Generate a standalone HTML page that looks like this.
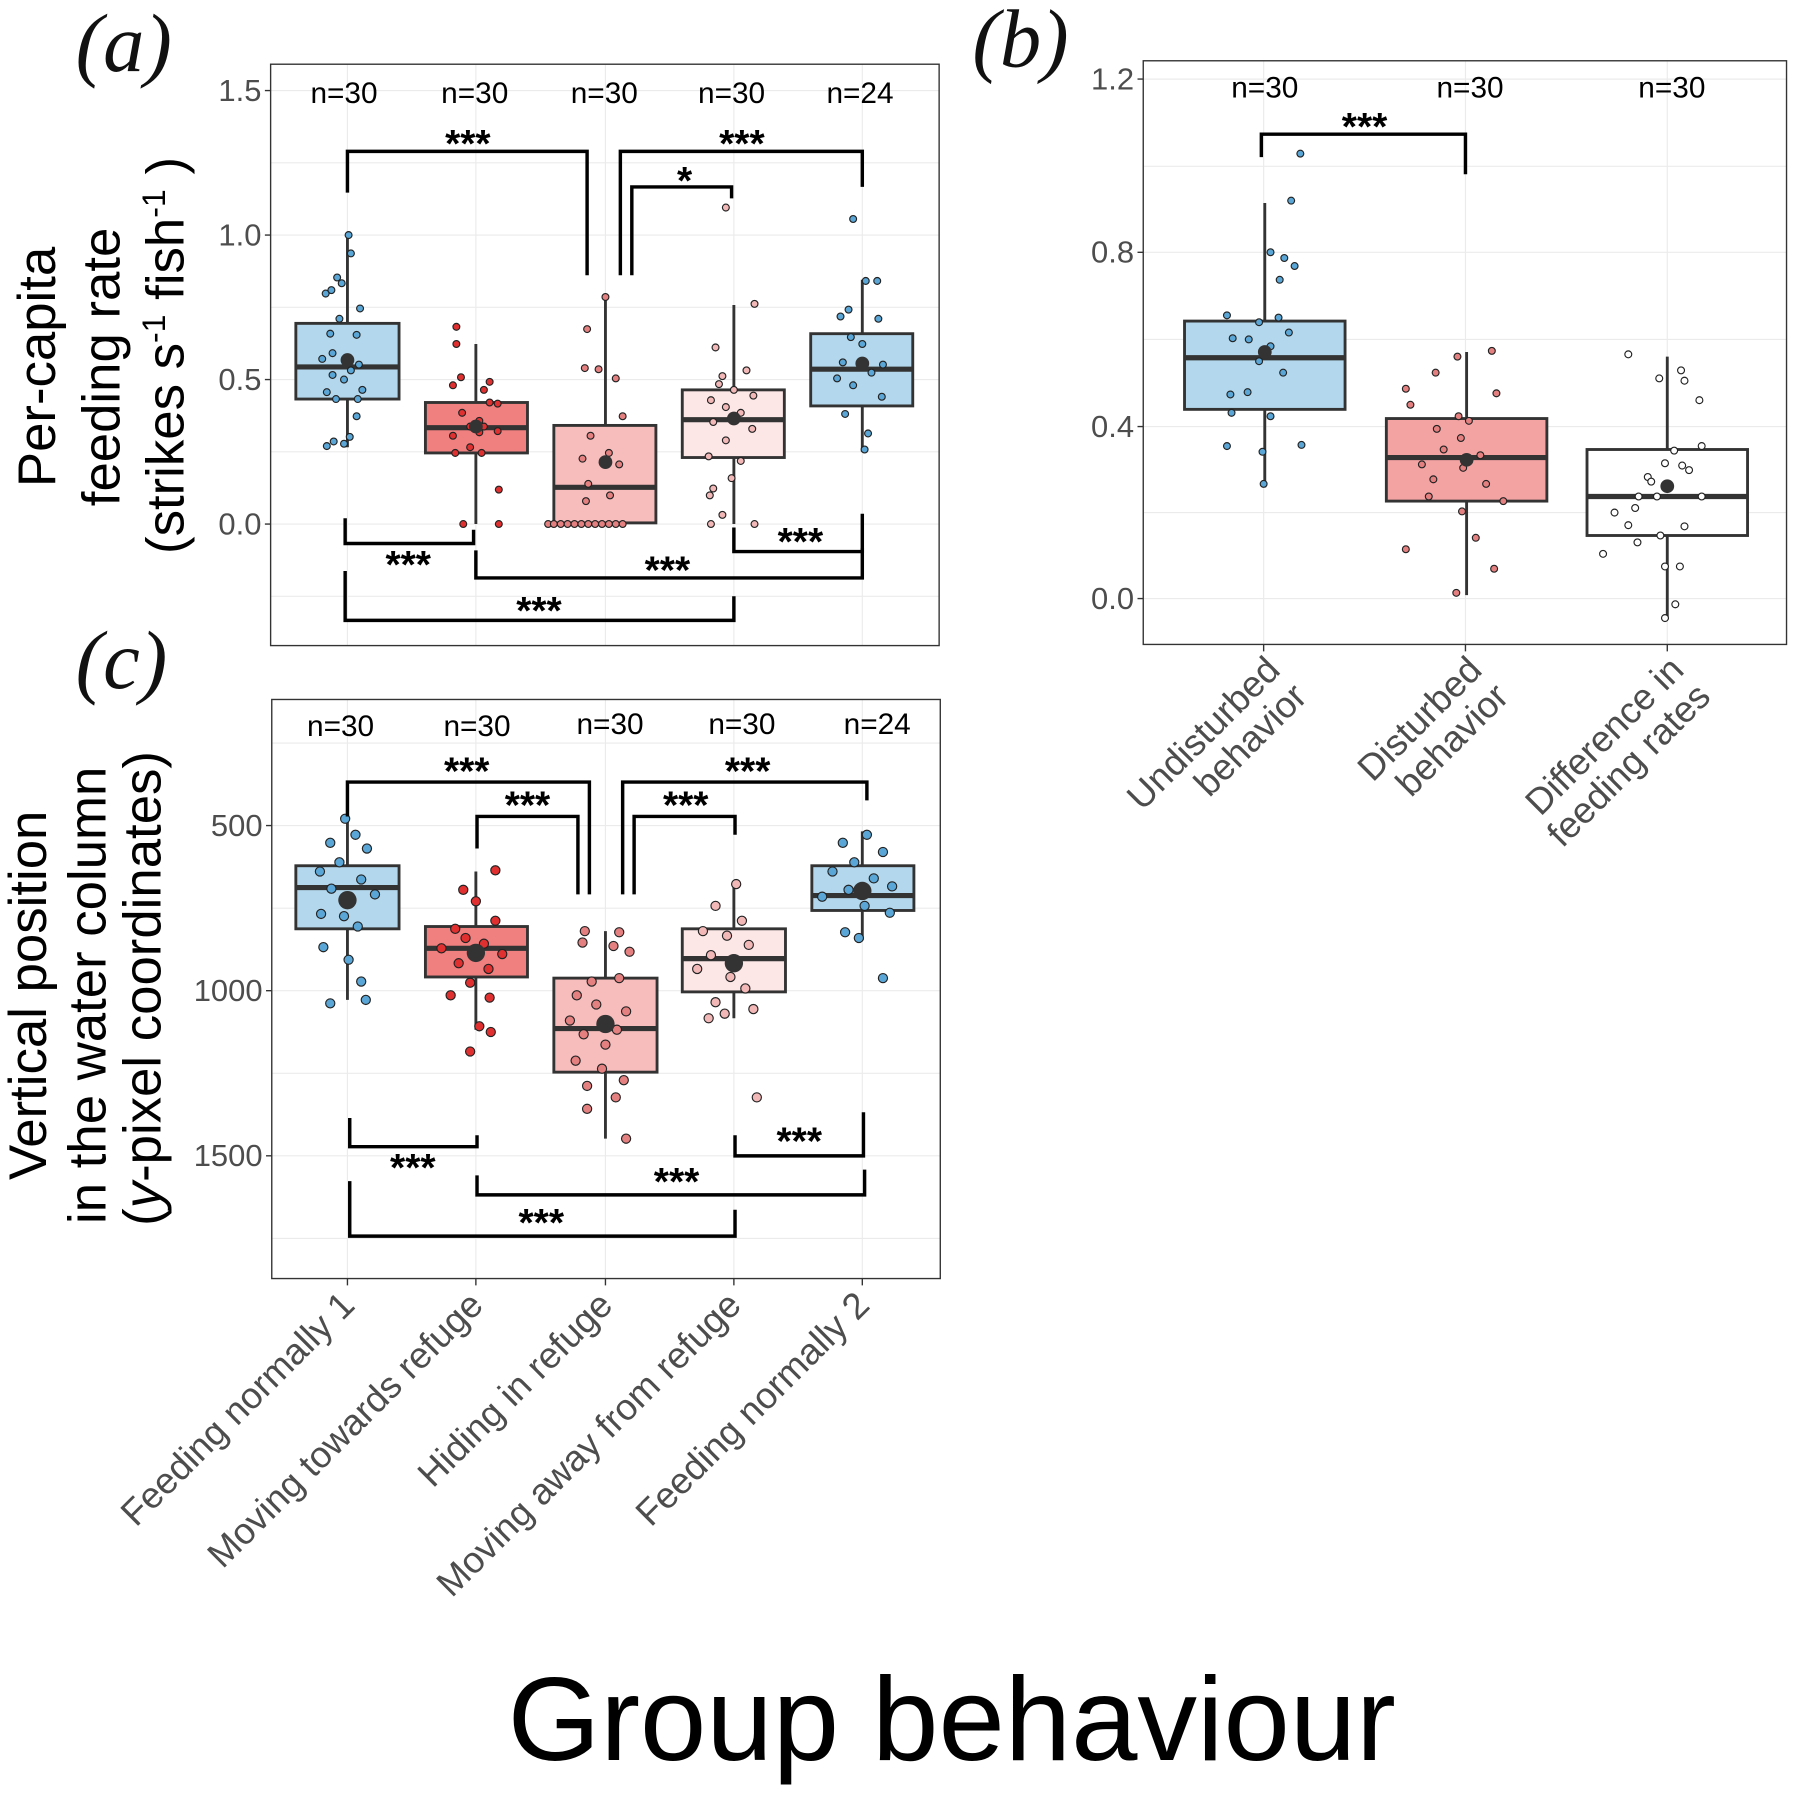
<!DOCTYPE html>
<html><head><meta charset="utf-8"><style>html,body{margin:0;padding:0;background:#fff}svg{display:block}</style></head>
<body>
<svg width="1798" height="1798" viewBox="0 0 1568 1568" xmlns="http://www.w3.org/2000/svg" font-family="Liberation Sans, sans-serif">
<rect width="1568" height="1568" fill="#fff"/>
<g stroke="#ebebeb" stroke-width="1">
<line x1="236" x2="819" y1="79" y2="79"/><line x1="236" x2="819" y1="142" y2="142"/><line x1="236" x2="819" y1="205" y2="205"/><line x1="236" x2="819" y1="268" y2="268"/><line x1="236" x2="819" y1="331" y2="331"/><line x1="236" x2="819" y1="394" y2="394"/><line x1="236" x2="819" y1="457" y2="457"/><line x1="236" x2="819" y1="520" y2="520"/>
<line x1="303" x2="303" y1="56" y2="563"/><line x1="415" x2="415" y1="56" y2="563"/><line x1="528" x2="528" y1="56" y2="563"/><line x1="640" x2="640" y1="56" y2="563"/><line x1="752" x2="752" y1="56" y2="563"/>
<line x1="997" x2="1558" y1="69" y2="69"/><line x1="997" x2="1558" y1="145" y2="145"/><line x1="997" x2="1558" y1="220" y2="220"/><line x1="997" x2="1558" y1="296" y2="296"/><line x1="997" x2="1558" y1="372" y2="372"/><line x1="997" x2="1558" y1="447" y2="447"/><line x1="997" x2="1558" y1="522" y2="522"/>
<line x1="1102" x2="1102" y1="53" y2="562"/><line x1="1278" x2="1278" y1="53" y2="562"/><line x1="1454" x2="1454" y1="53" y2="562"/>
<line x1="237" x2="820" y1="648" y2="648"/><line x1="237" x2="820" y1="720" y2="720"/><line x1="237" x2="820" y1="792" y2="792"/><line x1="237" x2="820" y1="864" y2="864"/><line x1="237" x2="820" y1="936" y2="936"/><line x1="237" x2="820" y1="1008" y2="1008"/><line x1="237" x2="820" y1="1080" y2="1080"/>
<line x1="303" x2="303" y1="610" y2="1115"/><line x1="415" x2="415" y1="610" y2="1115"/><line x1="528" x2="528" y1="610" y2="1115"/><line x1="640" x2="640" y1="610" y2="1115"/><line x1="752" x2="752" y1="610" y2="1115"/>
</g>
<g fill="none" stroke="#333" stroke-width="1.2">
<rect x="236" y="56" width="583" height="507"/>
<rect x="997" y="53" width="561" height="509"/>
<rect x="237" y="610" width="583" height="505"/>
<path d="M231 79h5M231 205h5M231 331h5M231 457h5M992 69h5M992 220h5M992 372h5M992 522h5M232 720h5M232 864h5M232 1008h5M303 1115v6M415 1115v6M528 1115v6M640 1115v6M752 1115v6M1102 562v6M1278 562v6M1454 562v6"/>
</g>
<g font-size="27" fill="#4d4d4d" text-anchor="end">
<text x="228" y="88">1.5</text><text x="228" y="214">1.0</text><text x="228" y="340">0.5</text><text x="228" y="466">0.0</text>
<text x="989" y="78">1.2</text><text x="989" y="229">0.8</text><text x="989" y="381">0.4</text><text x="989" y="531">0.0</text>
<text x="229" y="729">500</text><text x="229" y="873">1000</text><text x="229" y="1017">1500</text>
</g>
<g stroke="#333" stroke-width="2.5">
<path d="M303 205V390M415 300V457M528 258V457M640 266V457M752 244V394M1103 177V425M1279 307V519M1454 311V540M303 712V872M415 760V898M528 812V993M640 770V888M752 725V820"/>
<rect x="258" y="282" width="90" height="66" fill="#b3d7ec"/>
<rect x="371" y="351" width="89" height="44" fill="#f08080"/>
<rect x="483" y="371" width="89" height="85" fill="#f7bcbc"/>
<rect x="595" y="340" width="89" height="59" fill="#fde6e6"/>
<rect x="707" y="291" width="89" height="63" fill="#b3d7ec"/>
<rect x="1033" y="280" width="140" height="77" fill="#b3d7ec"/>
<rect x="1209" y="365" width="140" height="72" fill="#f4a3a3"/>
<rect x="1384" y="392" width="140" height="75" fill="#fff"/>
<rect x="258" y="755" width="90" height="55" fill="#b3d7ec"/>
<rect x="371" y="808" width="89" height="44" fill="#f08080"/>
<rect x="483" y="853" width="90" height="82" fill="#f7bcbc"/>
<rect x="595" y="810" width="90" height="55" fill="#fde6e6"/>
<rect x="708" y="755" width="89" height="39" fill="#b3d7ec"/>
</g>
<g stroke="#333" stroke-width="4.5">
<path d="M258 320H348M371 373H460M483 425H572M595 366H684M707 322H796M1033 312H1173M1209 399H1349M1384 433H1524M258 774H348M371 827H460M483 897H573M595 836H685M708 781H797"/>
</g>
<g stroke="#222" stroke-width="1">
<g fill="#5aa6d6">
<circle cx="304" cy="205" r="3"/><circle cx="306" cy="221" r="3"/><circle cx="294" cy="242" r="3"/><circle cx="298" cy="247" r="3"/><circle cx="284" cy="256" r="3"/><circle cx="289" cy="253" r="3"/><circle cx="314" cy="269" r="3"/><circle cx="296" cy="278" r="3"/><circle cx="288" cy="291" r="3"/><circle cx="311" cy="292" r="3"/><circle cx="290" cy="308" r="3"/><circle cx="281" cy="313" r="3"/><circle cx="313" cy="318" r="3"/><circle cx="306" cy="323" r="3"/><circle cx="290" cy="327" r="3"/><circle cx="300" cy="331" r="3"/><circle cx="285" cy="342" r="3"/><circle cx="293" cy="348" r="3"/><circle cx="312" cy="348" r="3"/><circle cx="316" cy="340" r="3"/><circle cx="311" cy="363" r="3"/><circle cx="305" cy="381" r="3"/><circle cx="291" cy="385" r="3"/><circle cx="285" cy="389" r="3"/><circle cx="300" cy="387" r="3"/>
<circle cx="744" cy="191" r="3"/><circle cx="755" cy="245" r="3"/><circle cx="765" cy="245" r="3"/><circle cx="740" cy="270" r="3"/><circle cx="733" cy="276" r="3"/><circle cx="766" cy="278" r="3"/><circle cx="742" cy="294" r="3"/><circle cx="752" cy="300" r="3"/><circle cx="735" cy="316" r="3"/><circle cx="770" cy="318" r="3"/><circle cx="760" cy="325" r="3"/><circle cx="730" cy="330" r="3"/><circle cx="744" cy="336" r="3"/><circle cx="769" cy="346" r="3"/><circle cx="737" cy="361" r="3"/><circle cx="757" cy="378" r="3"/><circle cx="754" cy="392" r="3"/>
<circle cx="1134" cy="134" r="3"/><circle cx="1126" cy="175" r="3"/><circle cx="1108" cy="220" r="3"/><circle cx="1120" cy="225" r="3"/><circle cx="1129" cy="232" r="3"/><circle cx="1116" cy="244" r="3"/><circle cx="1070" cy="275" r="3"/><circle cx="1098" cy="281" r="3"/><circle cx="1115" cy="277" r="3"/><circle cx="1075" cy="295" r="3"/><circle cx="1089" cy="296" r="3"/><circle cx="1124" cy="290" r="3"/><circle cx="1108" cy="302" r="3"/><circle cx="1098" cy="315" r="3"/><circle cx="1119" cy="325" r="3"/><circle cx="1073" cy="344" r="3"/><circle cx="1088" cy="342" r="3"/><circle cx="1108" cy="363" r="3"/><circle cx="1074" cy="360" r="3"/><circle cx="1070" cy="389" r="3"/><circle cx="1135" cy="388" r="3"/><circle cx="1101" cy="394" r="3"/><circle cx="1102" cy="422" r="3"/>
<circle cx="301" cy="714" r="4"/><circle cx="310" cy="728" r="4"/><circle cx="288" cy="735" r="4"/><circle cx="320" cy="740" r="4"/><circle cx="296" cy="752" r="4"/><circle cx="279" cy="760" r="4"/><circle cx="315" cy="767" r="4"/><circle cx="289" cy="775" r="4"/><circle cx="305" cy="782" r="4"/><circle cx="327" cy="780" r="4"/><circle cx="280" cy="797" r="4"/><circle cx="300" cy="799" r="4"/><circle cx="312" cy="808" r="4"/><circle cx="282" cy="826" r="4"/><circle cx="304" cy="837" r="4"/><circle cx="315" cy="856" r="4"/><circle cx="288" cy="875" r="4"/><circle cx="319" cy="872" r="4"/>
<circle cx="756" cy="728" r="4"/><circle cx="735" cy="735" r="4"/><circle cx="770" cy="743" r="4"/><circle cx="745" cy="752" r="4"/><circle cx="726" cy="760" r="4"/><circle cx="762" cy="766" r="4"/><circle cx="778" cy="773" r="4"/><circle cx="740" cy="776" r="4"/><circle cx="717" cy="782" r="4"/><circle cx="754" cy="790" r="4"/><circle cx="776" cy="796" r="4"/><circle cx="737" cy="813" r="4"/><circle cx="749" cy="818" r="4"/><circle cx="770" cy="853" r="4"/>
</g>
<g fill="#e03030">
<circle cx="398" cy="285" r="3"/><circle cx="398" cy="300" r="3"/><circle cx="402" cy="329" r="3"/><circle cx="427" cy="333" r="3"/><circle cx="395" cy="336" r="3"/><circle cx="422" cy="340" r="3"/><circle cx="427" cy="351" r="3"/><circle cx="434" cy="352" r="3"/><circle cx="403" cy="360" r="3"/><circle cx="418" cy="367" r="3"/><circle cx="410" cy="372" r="3"/><circle cx="422" cy="372" r="3"/><circle cx="395" cy="380" r="3"/><circle cx="418" cy="377" r="3"/><circle cx="434" cy="376" r="3"/><circle cx="410" cy="390" r="3"/><circle cx="397" cy="395" r="3"/><circle cx="420" cy="395" r="3"/><circle cx="435" cy="427" r="3"/><circle cx="404" cy="457" r="3"/><circle cx="435" cy="457" r="3"/>
<circle cx="432" cy="759" r="4"/><circle cx="404" cy="776" r="4"/><circle cx="415" cy="786" r="4"/><circle cx="397" cy="810" r="4"/><circle cx="432" cy="803" r="4"/><circle cx="406" cy="818" r="4"/><circle cx="422" cy="823" r="4"/><circle cx="385" cy="827" r="4"/><circle cx="438" cy="832" r="4"/><circle cx="400" cy="840" r="4"/><circle cx="426" cy="845" r="4"/><circle cx="410" cy="857" r="4"/><circle cx="393" cy="868" r="4"/><circle cx="427" cy="870" r="4"/><circle cx="418" cy="895" r="4"/><circle cx="428" cy="900" r="4"/><circle cx="410" cy="917" r="4"/>
</g>
<g fill="#e48080">
<circle cx="528" cy="259" r="3"/><circle cx="512" cy="287" r="3"/><circle cx="510" cy="321" r="3"/><circle cx="522" cy="322" r="3"/><circle cx="537" cy="330" r="3"/><circle cx="543" cy="363" r="3"/><circle cx="515" cy="380" r="3"/><circle cx="531" cy="395" r="3"/><circle cx="508" cy="400" r="3"/><circle cx="540" cy="405" r="3"/><circle cx="513" cy="422" r="3"/><circle cx="532" cy="432" r="3"/><circle cx="511" cy="437" r="3"/><circle cx="478" cy="457" r="3"/><circle cx="483" cy="457" r="3"/><circle cx="489" cy="457" r="3"/><circle cx="495" cy="457" r="3"/><circle cx="501" cy="457" r="3"/><circle cx="507" cy="457" r="3"/><circle cx="513" cy="457" r="3"/><circle cx="519" cy="457" r="3"/><circle cx="525" cy="457" r="3"/><circle cx="531" cy="457" r="3"/><circle cx="537" cy="457" r="3"/><circle cx="543" cy="457" r="3"/>
<circle cx="1301" cy="306" r="3"/><circle cx="1271" cy="311" r="3"/><circle cx="1252" cy="325" r="3"/><circle cx="1226" cy="339" r="3"/><circle cx="1305" cy="343" r="3"/><circle cx="1230" cy="353" r="3"/><circle cx="1272" cy="363" r="3"/><circle cx="1281" cy="367" r="3"/><circle cx="1253" cy="374" r="3"/><circle cx="1274" cy="382" r="3"/><circle cx="1259" cy="392" r="3"/><circle cx="1291" cy="397" r="3"/><circle cx="1240" cy="405" r="3"/><circle cx="1276" cy="408" r="3"/><circle cx="1250" cy="418" r="3"/><circle cx="1296" cy="422" r="3"/><circle cx="1246" cy="433" r="3"/><circle cx="1311" cy="437" r="3"/><circle cx="1275" cy="446" r="3"/><circle cx="1287" cy="469" r="3"/><circle cx="1226" cy="479" r="3"/><circle cx="1303" cy="496" r="3"/><circle cx="1270" cy="517" r="3"/>
<circle cx="510" cy="812" r="4"/><circle cx="540" cy="813" r="4"/><circle cx="535" cy="825" r="4"/><circle cx="549" cy="830" r="4"/><circle cx="508" cy="822" r="4"/><circle cx="516" cy="856" r="4"/><circle cx="540" cy="853" r="4"/><circle cx="503" cy="868" r="4"/><circle cx="520" cy="876" r="4"/><circle cx="546" cy="882" r="4"/><circle cx="497" cy="890" r="4"/><circle cx="509" cy="902" r="4"/><circle cx="538" cy="898" r="4"/><circle cx="528" cy="911" r="4"/><circle cx="502" cy="925" r="4"/><circle cx="525" cy="932" r="4"/><circle cx="544" cy="942" r="4"/><circle cx="512" cy="947" r="4"/><circle cx="537" cy="957" r="4"/><circle cx="512" cy="967" r="4"/><circle cx="546" cy="993" r="4"/>
</g>
<g fill="#f2b8b8">
<circle cx="633" cy="181" r="3"/><circle cx="658" cy="265" r="3"/><circle cx="624" cy="303" r="3"/><circle cx="630" cy="328" r="3"/><circle cx="651" cy="323" r="3"/><circle cx="627" cy="335" r="3"/><circle cx="640" cy="340" r="3"/><circle cx="657" cy="345" r="3"/><circle cx="620" cy="349" r="3"/><circle cx="633" cy="355" r="3"/><circle cx="646" cy="360" r="3"/><circle cx="622" cy="368" r="3"/><circle cx="656" cy="374" r="3"/><circle cx="633" cy="384" r="3"/><circle cx="618" cy="398" r="3"/><circle cx="646" cy="402" r="3"/><circle cx="622" cy="426" r="3"/><circle cx="638" cy="417" r="3"/><circle cx="619" cy="432" r="3"/><circle cx="630" cy="449" r="3"/><circle cx="620" cy="457" r="3"/><circle cx="658" cy="457" r="3"/>
<circle cx="642" cy="771" r="4"/><circle cx="624" cy="790" r="4"/><circle cx="647" cy="803" r="4"/><circle cx="613" cy="812" r="4"/><circle cx="634" cy="816" r="4"/><circle cx="653" cy="824" r="4"/><circle cx="620" cy="833" r="4"/><circle cx="642" cy="838" r="4"/><circle cx="608" cy="845" r="4"/><circle cx="637" cy="852" r="4"/><circle cx="650" cy="862" r="4"/><circle cx="624" cy="874" r="4"/><circle cx="632" cy="884" r="4"/><circle cx="657" cy="880" r="4"/><circle cx="618" cy="888" r="4"/><circle cx="660" cy="957" r="4"/>
</g>
<g fill="#fff">
<circle cx="1420" cy="309" r="3"/><circle cx="1447" cy="330" r="3"/><circle cx="1466" cy="323" r="3"/><circle cx="1469" cy="332" r="3"/><circle cx="1482" cy="349" r="3"/><circle cx="1484" cy="389" r="3"/><circle cx="1460" cy="393" r="3"/><circle cx="1467" cy="406" r="3"/><circle cx="1473" cy="410" r="3"/><circle cx="1437" cy="416" r="3"/><circle cx="1452" cy="404" r="3"/><circle cx="1426" cy="443" r="3"/><circle cx="1445" cy="433" r="3"/><circle cx="1484" cy="433" r="3"/><circle cx="1429" cy="433" r="3"/><circle cx="1440" cy="420" r="3"/><circle cx="1408" cy="447" r="3"/><circle cx="1420" cy="458" r="3"/><circle cx="1469" cy="459" r="3"/><circle cx="1448" cy="467" r="3"/><circle cx="1428" cy="473" r="3"/><circle cx="1398" cy="483" r="3"/><circle cx="1452" cy="494" r="3"/><circle cx="1465" cy="494" r="3"/><circle cx="1461" cy="527" r="3"/><circle cx="1452" cy="539" r="3"/>
</g>
</g>
<g fill="#333">
<circle cx="303" cy="314" r="6"/><circle cx="415" cy="372" r="6"/><circle cx="528" cy="403" r="6"/><circle cx="640" cy="365" r="6"/><circle cx="752" cy="317" r="6"/>
<circle cx="1103" cy="307" r="6"/><circle cx="1279" cy="401" r="6"/><circle cx="1454" cy="424" r="6"/>
<circle cx="303" cy="785" r="8"/><circle cx="415" cy="831" r="8"/><circle cx="528" cy="893" r="8"/><circle cx="640" cy="840" r="8"/><circle cx="752" cy="777" r="8"/>
</g>
<g fill="none" stroke="#000" stroke-width="3">
<polyline points="303,168 303,132 512,132 512,240"/>
<polyline points="541,240 541,132 752,132 752,163"/>
<polyline points="551,240 551,163 638,163 638,173"/>
<polyline points="301,452 301,474 413,474 413,462"/>
<polyline points="415,480 415,504 752,504 752,478"/>
<polyline points="640,460 640,481 752,481 752,448"/>
<polyline points="301,498 301,541 640,541 640,520"/>
<polyline points="1100,137 1100,117 1278,117 1278,152"/>
<polyline points="303,712 303,682 514,682 514,780"/>
<polyline points="416,740 416,712 504,712 504,780"/>
<polyline points="543,780 543,682 756,682 756,698"/>
<polyline points="553,780 553,712 641,712 641,728"/>
<polyline points="305,975 305,1000 416,1000 416,990"/>
<polyline points="416,1025 416,1042 754,1042 754,1020"/>
<polyline points="641,990 641,1008 753,1008 753,970"/>
<polyline points="305,1030 305,1078 641,1078 641,1055"/>
</g>
<g font-size="34" font-weight="bold" fill="#000" text-anchor="middle">
<text x="408" y="137">***</text><text x="647" y="137">***</text><text x="597" y="169">*</text>
<text x="356" y="504">***</text><text x="582" y="509">***</text><text x="698" y="484">***</text><text x="470" y="544">***</text>
<text x="1190" y="122">***</text>
<text x="407" y="684">***</text><text x="460" y="714">***</text><text x="652" y="684">***</text><text x="598" y="714">***</text>
<text x="360" y="1030">***</text><text x="590" y="1042">***</text><text x="697" y="1007">***</text><text x="472" y="1078">***</text>
</g>
<g font-size="26" fill="#000" text-anchor="middle">
<text x="300" y="90">n=30</text><text x="414" y="90">n=30</text><text x="527" y="90">n=30</text><text x="638" y="90">n=30</text><text x="750" y="90">n=24</text>
<text x="297" y="642">n=30</text><text x="416" y="642">n=30</text><text x="532" y="640">n=30</text><text x="647" y="640">n=30</text><text x="765" y="640">n=24</text>
<text x="1103" y="85">n=30</text><text x="1282" y="85">n=30</text><text x="1458" y="85">n=30</text>
</g>
<g font-size="32" fill="#4d4d4d" text-anchor="end">
<text transform="translate(311,1140) rotate(-45)">Feeding normally 1</text>
<text transform="translate(423,1140) rotate(-45)">Moving towards refuge</text>
<text transform="translate(536,1140) rotate(-45)">Hiding in refuge</text>
<text transform="translate(648,1140) rotate(-45)">Moving away from refuge</text>
<text transform="translate(760,1140) rotate(-45)">Feeding normally 2</text>
<text transform="translate(1118,586) rotate(-45)"><tspan x="0">Undisturbed</tspan><tspan x="0" dy="33">behavior</tspan></text>
<text transform="translate(1294,586) rotate(-45)"><tspan x="0">Disturbed</tspan><tspan x="0" dy="33">behavior</tspan></text>
<text transform="translate(1470,586) rotate(-45)"><tspan x="0">Difference in</tspan><tspan x="0" dy="33">feeding rates</tspan></text>
</g>
<g font-family="Liberation Serif, serif" font-style="italic" font-size="72" fill="#111">
<text x="66" y="62">(a)</text>
<text x="848" y="58">(b)</text>
<text x="66" y="600">(c)</text>
</g>
<g font-size="46" fill="#000" text-anchor="middle">
<text transform="translate(48,320) rotate(-90)">Per-capita</text>
<text transform="translate(104,320) rotate(-90)">feeding rate</text>
<text transform="translate(160,310) rotate(-90)">(strikes s<tspan dy="-16" font-size="28">-1</tspan><tspan dy="16"> fish</tspan><tspan dy="-16" font-size="28">-1</tspan><tspan dy="16"> )</tspan></text>
<text transform="translate(40,868) rotate(-90)">Vertical position</text>
<text transform="translate(92,868) rotate(-90)">in the water column</text>
<text transform="translate(140,862) rotate(-90)">(<tspan font-style="italic">y</tspan>-pixel coordinates)</text>
</g>
<text x="830" y="1535" font-size="104" text-anchor="middle" fill="#000">Group behaviour</text>
</svg>
</body></html>
